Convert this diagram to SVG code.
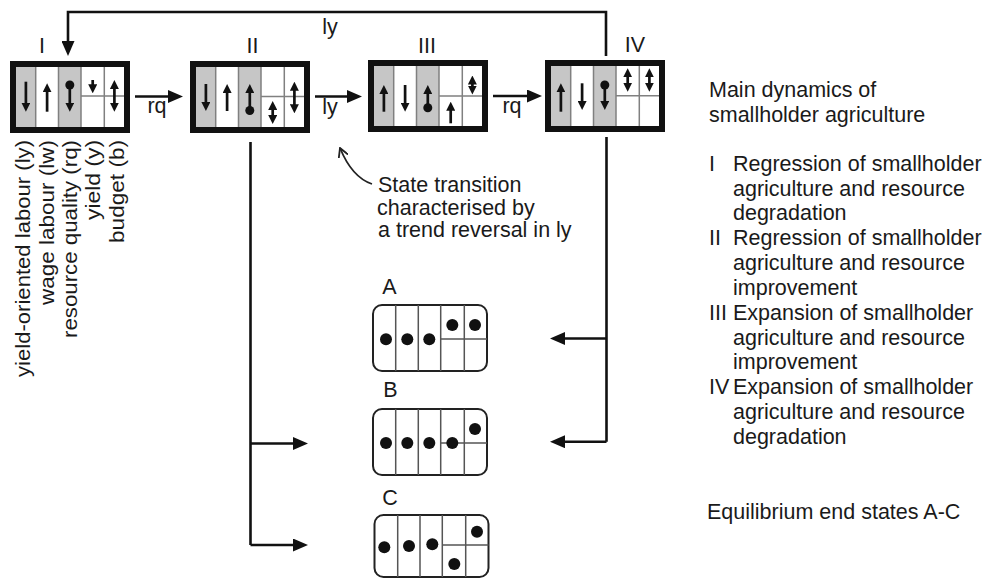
<svg xmlns="http://www.w3.org/2000/svg" width="988" height="579" viewBox="0 0 988 579">
<style>
text{font-family:"Liberation Sans",Arial,sans-serif;font-size:21.5px;fill:#1a1a1a}
.mid{text-anchor:middle}
.rot{font-size:20px}
.frame{fill:none;stroke:#111;stroke-width:6}
.gray{fill:#c6c6c6}
.div{stroke:#808080;stroke-width:1.5;fill:none}
.ca{stroke:#111;stroke-width:2.7;fill:none;marker-end:url(#h)}
.cd{stroke:#111;stroke-width:2.7;fill:none;marker-start:url(#h);marker-end:url(#h)}
.dot{fill:#111}
.conn{stroke:#111;stroke-width:2.6;fill:none;marker-end:url(#H)}
.plain{stroke:#111;stroke-width:2.6;fill:none}
.eframe{fill:#fff;stroke:#222;stroke-width:2}
.ediv{stroke:#555;stroke-width:1.5;fill:none}
.edot{fill:#111}
</style>
<defs>
<marker id="h" viewBox="0 0 9 9" markerWidth="9" markerHeight="9" refX="2" refY="4.5" orient="auto-start-reverse" markerUnits="userSpaceOnUse"><path d="M0,0 L9,4.5 L0,9 z" fill="#111"/></marker>
<marker id="H" viewBox="0 0 15 13" markerWidth="15" markerHeight="13" refX="3" refY="6.5" orient="auto" markerUnits="userSpaceOnUse"><path d="M0,0 L15,6.5 L0,13 z" fill="#111"/></marker>
<marker id="open" viewBox="0 0 10 10" markerWidth="10" markerHeight="10" refX="9" refY="5" orient="auto" markerUnits="userSpaceOnUse"><path d="M0,0 L9,5 L0,10" fill="none" stroke="#222" stroke-width="1.8"/></marker>
</defs>

<g id="connectors">
<path class="conn" d="M135,96.5 H171"/>
<path class="conn" d="M315,96.5 H350"/>
<path class="conn" d="M493,96 H530"/>
<path class="conn" d="M606,56 V12 H68 V44"/>
<path class="plain" d="M250.5,142 V545"/>
<path class="conn" d="M250.5,443.5 H296"/>
<path class="conn" d="M250.5,545 H296"/>
<path class="plain" d="M606.5,137 V441.7"/>
<path class="conn" d="M606.5,338.5 H562"/>
<path class="conn" d="M606.5,441.7 H562"/>
<path d="M372,184 C360,180 349,170 340,148" fill="none" stroke="#222" stroke-width="1.8" marker-end="url(#open)"/>
<text class="mid" x="330" y="34">ly</text>
<text class="mid" x="157" y="113">rq</text>
<text class="mid" x="330" y="114">ly</text>
<text class="mid" x="512" y="113">rq</text>
</g>

<g id="state-I" transform="translate(10,61)">
<rect class="gray" x="6" y="6" width="19.7" height="60"/>
<rect class="gray" x="48.5" y="6" width="22.5" height="60"/>
<path class="div" d="M25.7,6 V66 M48.5,6 V66 M71,6 V66 M94.3,6 V66 M71,35 H114"/>
<rect class="frame" x="3" y="3" width="114" height="66"/>
<path class="ca" d="M15.9,20.7 V43.7"/>
<path class="ca" d="M37.1,50.7 V29.3"/>
<circle class="dot" cx="59.8" cy="24" r="4.5"/>
<path class="ca" d="M59.8,24 V43.7"/>
<path class="ca" d="M82.7,19 V25.3"/>
<path class="cd" d="M104.4,26 V43.7"/>
<text class="mid" x="32" y="-8">I</text>
</g>

<g id="state-II" transform="translate(190,61)">
<rect class="gray" x="6" y="6" width="19.7" height="60"/>
<rect class="gray" x="48.5" y="6" width="22.5" height="60"/>
<path class="div" d="M25.7,6 V66 M48.5,6 V66 M71,6 V66 M94.3,6 V66 M71,35.5 H114"/>
<rect class="frame" x="3" y="3" width="114" height="66"/>
<path class="ca" d="M15.9,23 V43"/>
<path class="ca" d="M37.1,50 V30"/>
<circle class="dot" cx="59.8" cy="49.5" r="4.5"/>
<path class="ca" d="M59.8,49.5 V30"/>
<path class="cd" d="M82.7,47 V56"/>
<path class="cd" d="M104.4,27.7 V45.3"/>
<text class="mid" x="62.5" y="-8">II</text>
</g>

<g id="state-III" transform="translate(368,60)">
<rect class="gray" x="6" y="6" width="19.7" height="60"/>
<rect class="gray" x="48.5" y="6" width="22.5" height="60"/>
<path class="div" d="M25.7,6 V66 M48.5,6 V66 M71,6 V66 M94.3,6 V66 M71,36 H114"/>
<rect class="frame" x="3" y="3" width="114" height="66"/>
<path class="ca" d="M15.9,51.7 V32"/>
<path class="ca" d="M37.1,25 V44.7"/>
<circle class="dot" cx="59.8" cy="47.7" r="4.5"/>
<path class="ca" d="M59.8,47.7 V32"/>
<path class="ca" d="M82.7,63.3 V48.7"/>
<path class="cd" d="M104.4,22.5 V27.5"/>
<text class="mid" x="59" y="-7">III</text>
</g>

<g id="state-IV" transform="translate(545,60)">
<rect class="gray" x="6" y="6" width="19.7" height="60"/>
<rect class="gray" x="48.5" y="6" width="22.5" height="60"/>
<path class="div" d="M25.7,6 V66 M48.5,6 V66 M71,6 V66 M94.3,6 V66 M71,35.7 H114"/>
<rect class="frame" x="3" y="3" width="114" height="66"/>
<path class="ca" d="M15.9,51.7 V30.3"/>
<path class="ca" d="M37.1,23.3 V43"/>
<circle class="dot" cx="59.8" cy="25" r="4.5"/>
<path class="ca" d="M59.8,25 V43"/>
<path class="cd" d="M82.7,15.3 V24.7"/>
<path class="cd" d="M104.4,15.3 V24.7"/>
<text class="mid" x="90" y="-8">IV</text>
</g>

<g id="variable-labels">
<text class="rot" transform="translate(30,377) rotate(-90)" textLength="237" lengthAdjust="spacingAndGlyphs">yield-oriented labour (ly)</text>
<text class="rot" transform="translate(53.5,305) rotate(-90)" textLength="165" lengthAdjust="spacingAndGlyphs">wage labour (lw)</text>
<text class="rot" transform="translate(77,338) rotate(-90)" textLength="198" lengthAdjust="spacingAndGlyphs">resource quality (rq)</text>
<text class="rot" transform="translate(100,220) rotate(-90)" textLength="80" lengthAdjust="spacingAndGlyphs">yield (y)</text>
<text class="rot" transform="translate(123.5,243) rotate(-90)" textLength="103" lengthAdjust="spacingAndGlyphs">budget (b)</text>
</g>

<g id="annotation">
<text x="378" y="192">State transition</text>
<text x="377" y="214.5">characterised by</text>
<text x="378" y="237">a trend reversal in ly</text>
</g>

<g id="end-A">
<text class="mid" x="389.5" y="293.5">A</text>
<rect class="eframe" x="373" y="305" width="114" height="66" rx="9"/>
<path class="ediv" d="M395.7,305 V371 M418.3,305 V371 M440.7,305 V371 M464.3,305 V371 M440.7,339 H487"/>
<circle class="edot" cx="386" cy="339.3" r="6"/>
<circle class="edot" cx="407.3" cy="339.3" r="6"/>
<circle class="edot" cx="429.3" cy="339.3" r="6"/>
<circle class="edot" cx="452.3" cy="325" r="6"/>
<circle class="edot" cx="475" cy="325" r="6"/>
</g>

<g id="end-B">
<text class="mid" x="390.5" y="397">B</text>
<rect class="eframe" x="373" y="409" width="114" height="66" rx="9"/>
<path class="ediv" d="M395.7,409 V475 M418.3,409 V475 M440.7,409 V475 M464.3,409 V475 M440.7,443 H487"/>
<circle class="edot" cx="386" cy="443" r="6"/>
<circle class="edot" cx="407.3" cy="443" r="6"/>
<circle class="edot" cx="429.3" cy="443" r="6"/>
<circle class="edot" cx="452.3" cy="443" r="6"/>
<circle class="edot" cx="475" cy="429" r="6"/>
</g>

<g id="end-C">
<text class="mid" x="390" y="505">C</text>
<rect class="eframe" x="374.5" y="515" width="114" height="62" rx="9"/>
<path class="ediv" d="M397.7,515 V577 M420,515 V577 M442.3,515 V577 M465.7,515 V577 M442.3,545 H488.5"/>
<circle class="edot" cx="384.3" cy="547.3" r="6"/>
<circle class="edot" cx="409" cy="546" r="6"/>
<circle class="edot" cx="432.3" cy="544.3" r="6"/>
<circle class="edot" cx="454.3" cy="564" r="6"/>
<circle class="edot" cx="477" cy="531.7" r="6"/>
</g>

<g id="legend">
<text x="709" y="97">Main dynamics of</text>
<text x="709" y="122">smallholder agriculture</text>
<text x="709" y="171">I</text>
<text x="733" y="171">Regression of smallholder</text>
<text x="733" y="196">agriculture and resource</text>
<text x="733" y="220">degradation</text>
<text x="709" y="245">II</text>
<text x="733" y="245">Regression of smallholder</text>
<text x="733" y="270">agriculture and resource</text>
<text x="733" y="295">improvement</text>
<text x="709" y="320">III</text>
<text x="733" y="320">Expansion of smallholder</text>
<text x="733" y="345">agriculture and resource</text>
<text x="733" y="369">improvement</text>
<text x="709" y="394">IV</text>
<text x="733" y="394">Expansion of smallholder</text>
<text x="733" y="419">agriculture and resource</text>
<text x="733" y="444">degradation</text>
<text x="707" y="519">Equilibrium end states A-C</text>
</g>
</svg>
